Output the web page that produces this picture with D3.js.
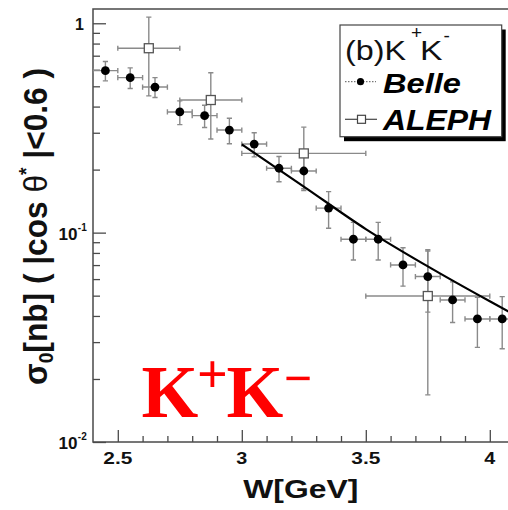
<!DOCTYPE html>
<html><head><meta charset="utf-8">
<script src="https://cdn.jsdelivr.net/npm/d3@7"></script>
<style>
html,body{margin:0;padding:0;background:#fff;}
svg{display:block;}
text{font-family:"Liberation Sans",Arial,Helvetica,sans-serif;}
text.serif{font-family:"Liberation Serif","Times New Roman",Times,serif;}
</style></head>
<body>
<svg id="chart" width="508" height="510"></svg>
<script>
// ---- data ----
const belleW = [2.45, 2.55, 2.65, 2.75, 2.85, 2.95, 3.05, 3.15, 3.25, 3.35, 3.45, 3.55, 3.65, 3.75, 3.85, 3.95, 4.05];
const belleSigma = [0.594, 0.550, 0.496, 0.377, 0.362, 0.309, 0.265, 0.203, 0.197, 0.131, 0.093, 0.093, 0.0701, 0.0617, 0.0477, 0.0387, 0.0387];
const belleErr = [0.063, 0.062, 0.054, 0.049, 0.044, 0.043, 0.035, 0.028, 0.035, 0.026, 0.019, 0.019, 0.0146, 0.020, 0.0105, 0.0104, 0.0108];
const belleHalfBin = [0.05, 0.05, 0.05, 0.05, 0.05, 0.05, 0.05, 0.05, 0.05, 0.05, 0.05, 0.05, 0.05, 0.05, 0.05, 0.05, 0.05];

const alephW = [2.625, 2.875, 3.25, 3.75];
const alephHalfBin = [0.125, 0.125, 0.25, 0.25];
const alephSigma = [0.760, 0.430, 0.239, 0.0498];
const alephErr = [0.31, 0.15, 0.08, 0.033];

const fitW = [3.0, 3.25, 3.5, 3.75, 4.0, 4.1];
const fitSigma = [0.264, 0.166, 0.104, 0.069, 0.047, 0.0405];

const xMajorTicks = [2.5, 3, 3.5, 4];
const xTickLabels = ["2.5", "3", "3.5", "4"];
const yMajorTicks = [0.01, 0.1, 1];

// ---- layout ----
const svg = d3.select("#chart");
const L = 93, T = 9, B = 442;
const x = d3.scaleLinear().domain([2.4, 4.1]).range([L, L + 1.7 * 248]);
const y = d3.scaleLog().domain([0.01, 1.17]).range([B, T]);
const R = x(4.1);
const axisCol = "#4a4a4a", errCol = "#8a8a8a";

svg.append("rect").attr("width", 508).attr("height", 510).attr("fill", "#fff");

svg.append("defs").append("clipPath").attr("id", "plotclip")
  .append("rect").attr("x", L).attr("y", T).attr("width", R - L).attr("height", B - T);

// frame
svg.append("rect").attr("x", L).attr("y", T).attr("width", R - L).attr("height", B - T)
  .attr("fill", "none").attr("stroke", axisCol).attr("stroke-width", 1.5);

// y ticks (log): majors + minors
const yMinor = [];
[0.01, 0.1].forEach(d => { for (let k = 2; k <= 9; k++) yMinor.push(d * k); });
const yAxis = d3.axisRight(y).tickValues(yMajorTicks).tickSize(13).tickFormat("");
const gy = svg.append("g").attr("transform", `translate(${L},0)`).call(yAxis);
const yAxisMinor = d3.axisRight(y).tickValues(yMinor.filter(v => v <= 1.17)).tickSize(7).tickFormat("");
const gy2 = svg.append("g").attr("transform", `translate(${L},0)`).call(yAxisMinor);
[gy, gy2].forEach(g => { g.select(".domain").remove(); g.selectAll("line").attr("stroke", axisCol).attr("stroke-width", 1.3); });

// x ticks
const xMinor = d3.range(25, 41).map(v => v / 10).filter(v => !xMajorTicks.some(m => Math.abs(m - v) < 1e-9));
const xAxis = d3.axisTop(x).tickValues(xMajorTicks).tickSize(12).tickFormat("");
const gx = svg.append("g").attr("transform", `translate(0,${B})`).call(xAxis);
const xAxisMinor = d3.axisTop(x).tickValues(xMinor).tickSize(6).tickFormat("");
const gx2 = svg.append("g").attr("transform", `translate(0,${B})`).call(xAxisMinor);
[gx, gx2].forEach(g => { g.select(".domain").remove(); g.selectAll("line").attr("stroke", axisCol).attr("stroke-width", 1.3); });

// x tick labels
const xLabW = {"2.5": 29, "3": 11, "3.5": 29, "4": 11};
xMajorTicks.forEach((v, i) => {
  svg.append("text").attr("x", x(v)).attr("y", 463.5).attr("text-anchor", "middle")
    .attr("font-size", 16.5).attr("font-weight", "bold").attr("fill", "#111")
    .attr("textLength", xLabW[xTickLabels[i]]).attr("lengthAdjust", "spacingAndGlyphs")
    .text(xTickLabels[i]);
});

// y tick labels
function yLab(v) {
  const yy = y(v);
  if (v === 1) {
    svg.append("text").attr("x", 84).attr("y", yy + 6.5).attr("text-anchor", "end")
      .attr("font-size", 16).attr("font-weight", "bold").attr("fill", "#111").text("1");
  } else {
    const ex = Math.round(Math.log10(v));
    svg.append("text").attr("x", 77.5).attr("y", yy + 7).attr("text-anchor", "end")
      .attr("font-size", 17).attr("font-weight", "bold").attr("fill", "#111")
      .attr("textLength", 19).attr("lengthAdjust", "spacingAndGlyphs").text("10");
    svg.append("text").attr("x", 77.8).attr("y", yy - 2).attr("text-anchor", "start")
      .attr("font-size", 10).attr("font-weight", "bold").attr("fill", "#111").text(String(ex));
  }
}
yMajorTicks.forEach(yLab);

// ---- plot content ----
const plot = svg.append("g").attr("clip-path", "url(#plotclip)");
const cap = 2.6;
function errBars(Ws, S, E, H) {
  const g = plot.append("g").attr("stroke", errCol).attr("stroke-width", 1.4).attr("fill", "none");
  Ws.forEach((w, i) => {
    const cx = x(w), cy = y(S[i]);
    const x0 = x(w - H[i]), x1 = x(w + H[i]);
    const y0 = y(S[i] + E[i]), y1 = y(Math.max(S[i] - E[i], 1e-4));
    g.append("line").attr("x1", x0).attr("x2", x1).attr("y1", cy).attr("y2", cy);
    g.append("line").attr("x1", cx).attr("x2", cx).attr("y1", y0).attr("y2", y1);
    g.append("line").attr("x1", x0).attr("x2", x0).attr("y1", cy - cap).attr("y2", cy + cap);
    g.append("line").attr("x1", x1).attr("x2", x1).attr("y1", cy - cap).attr("y2", cy + cap);
    g.append("line").attr("x1", cx - cap).attr("x2", cx + cap).attr("y1", y0).attr("y2", y0);
    g.append("line").attr("x1", cx - cap).attr("x2", cx + cap).attr("y1", y1).attr("y2", y1);
  });
}
errBars(alephW, alephSigma, alephErr, alephHalfBin);
errBars(belleW, belleSigma, belleErr, belleHalfBin);

// fit curve
const fitData = fitW.map((w, i) => [w, fitSigma[i]]);
plot.append("path").datum(fitData)
  .attr("d", d3.line().x(d => x(d[0])).y(d => y(d[1])).curve(d3.curveMonotoneX))
  .attr("fill", "none").attr("stroke", "#000").attr("stroke-width", 2.2);

// ALEPH squares
plot.selectAll("rect.aleph").data(alephW).join("rect").attr("class", "aleph")
  .attr("x", (d) => x(d) - 4.5).attr("y", (d, i) => y(alephSigma[i]) - 4.5)
  .attr("width", 9).attr("height", 9)
  .attr("fill", "#fff").attr("stroke", "#555").attr("stroke-width", 1.3);

// Belle dots
plot.selectAll("circle.belle").data(belleW).join("circle").attr("class", "belle")
  .attr("cx", d => x(d)).attr("cy", (d, i) => y(belleSigma[i])).attr("r", 4.4).attr("fill", "#000");

// ---- legend ----
const lg = svg.append("g");
lg.append("rect").attr("x", 344).attr("y", 29.5).attr("width", 161.7).attr("height", 111.7).attr("fill", "#000");
lg.append("rect").attr("x", 340).attr("y", 25).attr("width", 161.7).attr("height", 111.7)
  .attr("fill", "#fff").attr("stroke", "#444").attr("stroke-width", 1.2);
lg.append("text").attr("x", 345).attr("y", 60).attr("font-size", 28).attr("fill", "#111")
  .attr("textLength", 61).attr("lengthAdjust", "spacingAndGlyphs").text("(b)K");
lg.append("text").attr("x", 416.5).attr("y", 38.5).attr("text-anchor", "middle").attr("font-size", 19).attr("fill", "#111").text("+");
lg.append("text").attr("x", 420).attr("y", 60).attr("font-size", 28).attr("fill", "#111")
  .attr("textLength", 22.5).attr("lengthAdjust", "spacingAndGlyphs").text("K");
lg.append("text").attr("x", 443.5).attr("y", 42).attr("font-size", 19).attr("fill", "#111").text("-");

lg.append("line").attr("x1", 345).attr("x2", 376).attr("y1", 81.7).attr("y2", 81.7)
  .attr("stroke", "#555").attr("stroke-width", 1).attr("stroke-dasharray", "1.5,1.5");
lg.append("circle").attr("cx", 360.5).attr("cy", 81.7).attr("r", 3.6).attr("fill", "#000");
lg.append("text").attr("x", 383).attr("y", 92.7).attr("font-size", 28).attr("font-weight", "bold")
  .attr("font-style", "italic").attr("fill", "#000")
  .attr("textLength", 78).attr("lengthAdjust", "spacingAndGlyphs").text("Belle");

lg.append("line").attr("x1", 345).attr("x2", 377).attr("y1", 119.3).attr("y2", 119.3)
  .attr("stroke", "#444").attr("stroke-width", 1.2);
lg.append("rect").attr("x", 357.5).attr("y", 115.3).attr("width", 8).attr("height", 8)
  .attr("fill", "#fff").attr("stroke", "#444").attr("stroke-width", 1.2);
lg.append("text").attr("x", 383).attr("y", 130).attr("font-size", 30).attr("font-weight", "bold")
  .attr("font-style", "italic").attr("fill", "#000")
  .attr("textLength", 108).attr("lengthAdjust", "spacingAndGlyphs").text("ALEPH");

// ---- axis titles ----
svg.append("text").attr("x", 300.8).attr("y", 498.3).attr("text-anchor", "middle")
  .attr("font-size", 26.5).attr("font-weight", "bold").attr("fill", "#111")
  .attr("textLength", 115).attr("lengthAdjust", "spacingAndGlyphs").text("W[GeV]");

const yt = svg.append("text").attr("transform", "translate(46.5,226.5) scale(1.2,1) rotate(-90)")
  .attr("text-anchor", "middle").attr("font-size", 28).attr("font-weight", "bold").attr("fill", "#111")
  .attr("textLength", 317).attr("lengthAdjust", "spacingAndGlyphs");
yt.append("tspan").text("σ");
yt.append("tspan").attr("font-size", 17).attr("dy", 5).text("0");
yt.append("tspan").attr("dy", -5).text("[nb] ( |cos ");
yt.append("tspan").attr("font-weight", "normal").text("θ");
yt.append("tspan").attr("font-size", 17).attr("dy", -11).text("*");
yt.append("tspan").attr("dy", 11).text(" |<0.6 )");

// ---- red overlay label ----
const red = svg.append("g").attr("fill", "#ff0000").attr("font-weight", "bold");
red.append("text").attr("class", "serif").attr("x", 141.5).attr("y", 416.7).attr("font-size", 73).text("K");
red.append("text").attr("class", "serif").attr("x", 212.5).attr("y", 391.5).attr("text-anchor", "middle").attr("font-size", 54).text("+");
red.append("text").attr("class", "serif").attr("x", 226.5).attr("y", 416.7).attr("font-size", 73).text("K");
red.append("text").attr("class", "serif").attr("x", 298).attr("y", 394.5).attr("text-anchor", "middle").attr("font-size", 50).text("−");
</script>
</body></html>
